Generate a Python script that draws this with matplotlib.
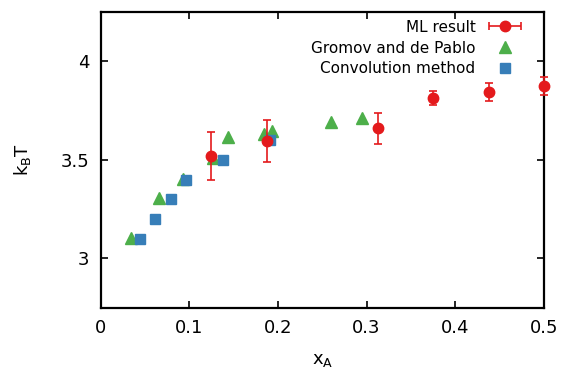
import matplotlib
matplotlib.use("Agg")
import matplotlib.pyplot as plt
from matplotlib.container import ErrorbarContainer
from matplotlib.legend_handler import HandlerErrorbar
import numpy as np

# ML result (with error bars)
ml_x = [0.125, 0.1875, 0.3125, 0.375, 0.4375, 0.5]
ml_y = [3.52, 3.595, 3.66, 3.815, 3.845, 3.875]
ml_err = [0.123, 0.105, 0.08, 0.035, 0.047, 0.045]

# Gromov and de Pablo
gr_x = [0.034, 0.066, 0.093, 0.127, 0.144, 0.184, 0.193, 0.26, 0.295]
gr_y = [3.105, 3.305, 3.405, 3.51, 3.615, 3.63, 3.645, 3.69, 3.715]

# Convolution method
cv_x = [0.045, 0.0615, 0.079, 0.0965, 0.138, 0.191]
cv_y = [3.1, 3.2, 3.3, 3.4, 3.5, 3.6]

RED = "#e41a1c"
GREEN = "#4daf4a"
BLUE = "#377eb8"

plt.rcParams["font.family"] = "DejaVu Sans"

fig = plt.figure(figsize=(5.66, 3.68), dpi=100)
ax = fig.add_axes([0.1776, 0.164, 0.7834, 0.803])

ax.plot(gr_x, gr_y, linestyle="none", marker="^", ms=8.5, color=GREEN, zorder=2)
ax.plot(cv_x, cv_y, linestyle="none", marker="s", ms=7.2, color=BLUE, zorder=3)
ax.errorbar(ml_x, ml_y, yerr=ml_err, fmt="o", ms=7.5, color=RED,
            ecolor=RED, elinewidth=1.2, capsize=3, capthick=1.2, zorder=4,
            clip_on=False)

# legend handles (gnuplot style: horizontal error bar for ML result)
h_ml = ax.errorbar([np.nan], [np.nan], xerr=[1.0], fmt="o", ms=7.5, color=RED,
                   ecolor=RED, elinewidth=1.2, capsize=3, capthick=1.2)
h_gr, = ax.plot([], [], linestyle="none", marker="^", ms=8.5, color=GREEN)
h_cv, = ax.plot([], [], linestyle="none", marker="s", ms=7.2, color=BLUE)
ax.legend([h_ml, h_gr, h_cv],
          ["ML result", "Gromov and de Pablo", "Convolution method"],
          loc="upper right", bbox_to_anchor=(0.97, 1.005), frameon=False,
          markerfirst=False, fontsize=11, handlelength=2.2, handletextpad=0.8,
          labelspacing=0.38, borderaxespad=0.2,
          handler_map={ErrorbarContainer: HandlerErrorbar(xerr_size=1.05)})

ax.set_xlim(0, 0.5)
ax.set_ylim(2.75, 4.25)
ax.set_xticks([0, 0.1, 0.2, 0.3, 0.4, 0.5])
ax.set_xticklabels(["0", "0.1", "0.2", "0.3", "0.4", "0.5"])
ax.set_yticks([3, 3.5, 4])
ax.set_yticklabels(["3", "3.5", "4"])
ax.tick_params(direction="in", top=True, right=True, length=5, width=1.2,
               labelsize=13, pad=8)
for s in ax.spines.values():
    s.set_linewidth(1.6)

ax.set_xlabel(r"x$_\mathregular{A}$", fontsize=13, labelpad=10)
ax.set_ylabel(r"k$_\mathregular{B}$T", fontsize=13, labelpad=20)

fig.savefig("out.png", dpi=100)
